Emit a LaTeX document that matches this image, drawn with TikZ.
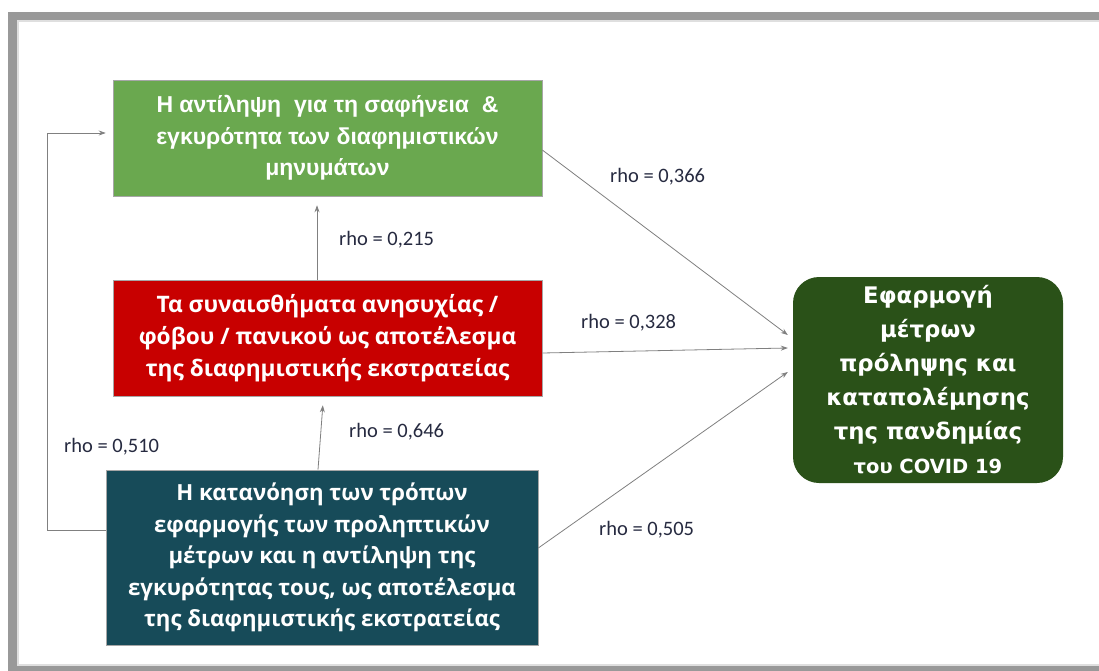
\documentclass[tikz,border=0pt]{standalone}
\usepackage{fontspec}
\setmainfont{Open Sans}
\newfontfamily\boxfont{Open Sans Bold}
\newfontfamily\arialfont{Liberation Sans Bold}
\newfontfamily\verdfont{DejaVu Sans}
\newfontfamily\labelfont{Carlito}
\usetikzlibrary{arrows.meta}
\definecolor{framegray}{HTML}{999999}
\definecolor{lightgreen}{HTML}{6AA84F}
\definecolor{boxred}{HTML}{C80000}
\definecolor{boxteal}{HTML}{174B59}
\definecolor{darkgreen}{HTML}{2A5118}
\definecolor{linegray}{HTML}{808080}
\definecolor{labelcol}{HTML}{262A40}
\tikzset{
  factor/.style={rectangle, draw=gray!70, line width=0.6pt, text=white,
    align=center, inner sep=0pt},
  result/.style={rectangle, rounded corners=26pt, fill=darkgreen, text=white,
    align=center, inner sep=0pt, minimum width=270pt, minimum height=206pt},
  link/.style={draw=linegray, line width=0.8pt,
    -{Stealth[length=7pt,width=5pt]}},
  rholabel/.style={text=labelcol, font=\labelfont\fontsize{20.5}{24}\selectfont,
    inner sep=0pt}
}
\begin{document}
\begin{tikzpicture}[x=1pt,y=-1pt]
  \useasboundingbox (0,0) rectangle (1099,671);
  % page frame
  \fill[white] (0,0) rectangle (1099,671);
  \fill[framegray] (8,12) rectangle (1099,20);
  \fill[framegray] (8,12) rectangle (17,671);
  \fill[framegray] (8,666) rectangle (1099,671);
  \fill[gray!25] (17,20) rectangle (1099,22);
  \fill[gray!25] (17,20) rectangle (19,666);
  \fill[gray!25] (17,664) rectangle (1099,666);

  % factor boxes
  \node[factor, fill=lightgreen, minimum width=429pt, minimum height=116pt,
        font=\arialfont\fontsize{23}{31.5}\selectfont]
    (clarity) at (327.5,138)
    {Η αντίληψη\ \ για τη σαφήνεια\ \ \&\\εγκυρότητα των διαφημιστικών\\μηνυμάτων};
  \node[factor, fill=boxred, minimum width=429pt, minimum height=116pt,
        font=\boxfont\fontsize{22.7}{32}\selectfont]
    (emotion) at (327.5,338)
    {Τα συναισθήματα ανησυχίας /\\φόβου / πανικού ως αποτέλεσμα\\της διαφημιστικής εκστρατείας};
  \node[factor, fill=boxteal, minimum width=432pt, minimum height=175pt,
        font=\boxfont\fontsize{22.2}{31.5}\selectfont]
    (understand) at (322,557.5)
    {Η κατανόηση των τρόπων\\εφαρμογής των προληπτικών\\μέτρων και η αντίληψη της\\εγκυρότητας τους, ως αποτέλεσμα\\της διαφημιστικής εκστρατείας};

  % outcome box
  \node[result, font=\verdfont\bfseries\fontsize{22.8}{34}\selectfont]
    (outcome) at (928,380)
    {Εφαρμογή\\μέτρων\\πρόληψης και\\καταπολέμησης\\της πανδημίας\\{\fontsize{19.5}{34}\selectfont του COVID 19}};

  % connectors
  \draw[link] ([yshift=-12pt]clarity.east) -- ([xshift=-5pt,yshift=45pt]outcome.west);
  \draw[link] ([yshift=-15pt]emotion.east) -- ([xshift=-5pt,yshift=32pt]outcome.west);
  \draw[link] ([yshift=9.5pt]understand.east) -- ([xshift=-5pt,yshift=8pt]outcome.west);
  \draw[link, shorten >=9pt] ([xshift=-10.5pt]emotion.north) -- ([xshift=-10.5pt]clarity.south);
  \draw[link, shorten >=9pt] ([xshift=-4pt]understand.north) -- ([xshift=-4pt]emotion.south);
  \coordinate (loopA) at (47,530);
  \coordinate (loopB) at (47,133);
  \draw[link] ([yshift=27.5pt]understand.west) -- (loopA) -- (loopB) -- ([xshift=-7pt,yshift=5pt]clarity.west);

  % correlation labels
  \node[rholabel, anchor=west] (r1) at (610,177) {rho = 0,366};
  \node[rholabel, anchor=west] (r2) at (339,240) {rho = 0,215};
  \node[rholabel, anchor=west] (r3) at (581,323) {rho = 0,328};
  \node[rholabel, anchor=west] (r4) at (349,432) {rho = 0,646};
  \node[rholabel, anchor=west] (r5) at (64,447) {rho = 0,510};
  \node[rholabel, anchor=west] (r6) at (599,530) {rho = 0,505};
\end{tikzpicture}
\end{document}
